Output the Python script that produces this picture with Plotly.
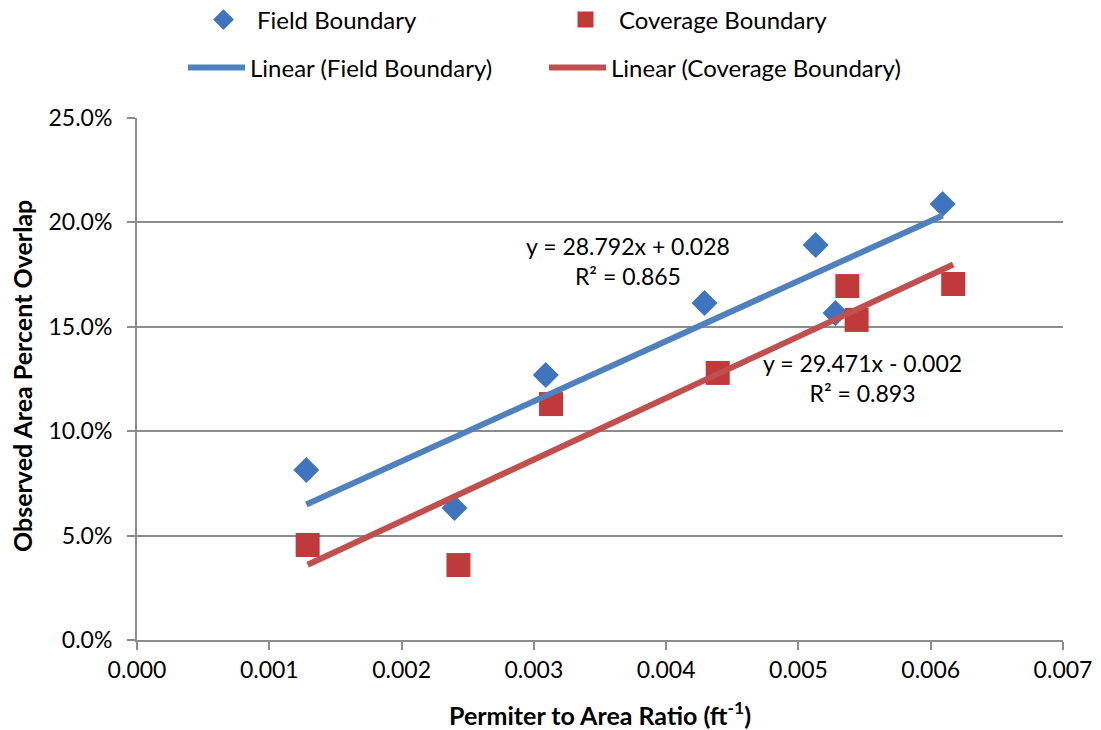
import plotly.graph_objects as go

# Data
field_x = [0.00128, 0.00240, 0.00309, 0.00429, 0.00513, 0.00528, 0.00609]
field_y = [0.0814, 0.0632, 0.1269, 0.1614, 0.1892, 0.1566, 0.2088]
cover_x = [0.00129, 0.00243, 0.00313, 0.00439, 0.00537, 0.00544, 0.00617]
cover_y = [0.0455, 0.0359, 0.1130, 0.1279, 0.1695, 0.1533, 0.1705]

# Trendline coefficients as labelled on the chart
field_slope, field_int = 28.792, 0.028
cover_slope, cover_int = 29.471, -0.002
field_label = "y = 28.792x + 0.028<br>R² = 0.865"
cover_label = "y = 29.471x - 0.002<br>R² = 0.893"
x_title = "<b>Permiter to Area Ratio (ft<sup>-1</sup>)</b>"
y_title = "<b>Observed Area Percent Overlap</b>"

x_ticks = [0.000, 0.001, 0.002, 0.003, 0.004, 0.005, 0.006, 0.007]
y_ticks = [0.00, 0.05, 0.10, 0.15, 0.20, 0.25]

FONT = "Lato"
GRID = "#8c8c8c"
BLUE_M = "#3F74BE"
RED_M = "#C0393B"
BLUE_L = "#4F81BD"
RED_L = "#C0504D"

# page body has an 8px default margin; figure is sized to fill the rest of the window
OFF = 8
W, H = 1101 - OFF, 730 - OFF

fx_line = [min(field_x), max(field_x)]
fy_line = [field_slope * v + field_int for v in fx_line]
cx_line = [min(cover_x), max(cover_x)]
cy_line = [cover_slope * v + cover_int for v in cx_line]

fig = go.Figure()
fig.add_trace(go.Scatter(x=field_x, y=field_y, mode="markers", name="Field Boundary",
                         marker=dict(symbol="diamond", size=20, color=BLUE_M,
                                     line=dict(width=0)), legend="legend"))
fig.add_trace(go.Scatter(x=cover_x, y=cover_y, mode="markers", name="Coverage Boundary",
                         marker=dict(symbol="square", size=24, color=RED_M,
                                     line=dict(width=0)), legend="legend2"))
fig.add_trace(go.Scatter(x=fx_line, y=fy_line, mode="lines", name="Linear (Field Boundary)",
                         line=dict(color=BLUE_L, width=6), legend="legend3"))
fig.add_trace(go.Scatter(x=cx_line, y=cy_line, mode="lines", name="Linear (Coverage Boundary)",
                         line=dict(color=RED_L, width=6), legend="legend4"))

# screen pixel -> container fraction
def cx(p):
    return (p - OFF) / W

def cy(p):
    return 1 - (p - OFF) / H

def leg(x, y):
    return dict(x=cx(x), y=cy(y), xref="container", yref="container",
                xanchor="left", yanchor="middle",
                bgcolor="rgba(0,0,0,0)", font=dict(family=FONT, size=24, color="#000"),
                itemwidth=57, tracegroupgap=0)

# plot area on screen: x 137..1063, y 118..640
PL, PR, PT, PB = 137, 1063, 118, 640

def ax_x(p):
    return (p - PL) / (PR - PL)

def ax_y(p):
    return (PB - p) / (PB - PT)

def label(x, y, text, size=23, angle=0):
    return dict(x=ax_x(x), y=ax_y(y), xref="paper", yref="paper", text=text,
                xanchor="center", yanchor="middle", textangle=angle,
                showarrow=False, align="center",
                font=dict(family=FONT, size=size, color="#000"))

fig.update_layout(
    width=W, height=H,
    margin=dict(l=PL - OFF, r=1101 - PR, t=PT - OFF, b=730 - PB, autoexpand=False),
    paper_bgcolor="white", plot_bgcolor="white",
    font=dict(family=FONT, size=23, color="#000"),
    showlegend=True,
    legend=leg(190, 20),
    legend2=leg(552, 20),
    legend3=leg(183, 68),
    legend4=leg(544, 68),
    xaxis=dict(range=[0, 0.007], tickvals=x_ticks, tickformat=".3f",
               showgrid=False, zeroline=False, showline=True, linecolor=GRID, linewidth=2,
               ticks="outside", ticklen=8, tickwidth=2, tickcolor=GRID,
               tickfont=dict(family=FONT, size=23)),
    yaxis=dict(range=[0, 0.25], tickvals=y_ticks, tickformat=".1%",
               showgrid=True, gridcolor=GRID, gridwidth=1.5, zeroline=False,
               showline=True, linecolor=GRID, linewidth=2,
               ticks="outside", ticklen=8, tickwidth=2, tickcolor=GRID,
               ticklabelstandoff=10,
               tickfont=dict(family=FONT, size=23)),
    annotations=[
        label(628, 261, field_label),
        label(862, 378, cover_label),
        label(600, 713, x_title, size=25),
        label(22, 376, y_title, size=25, angle=-90),
    ],
)

fig.write_html("out.html")
